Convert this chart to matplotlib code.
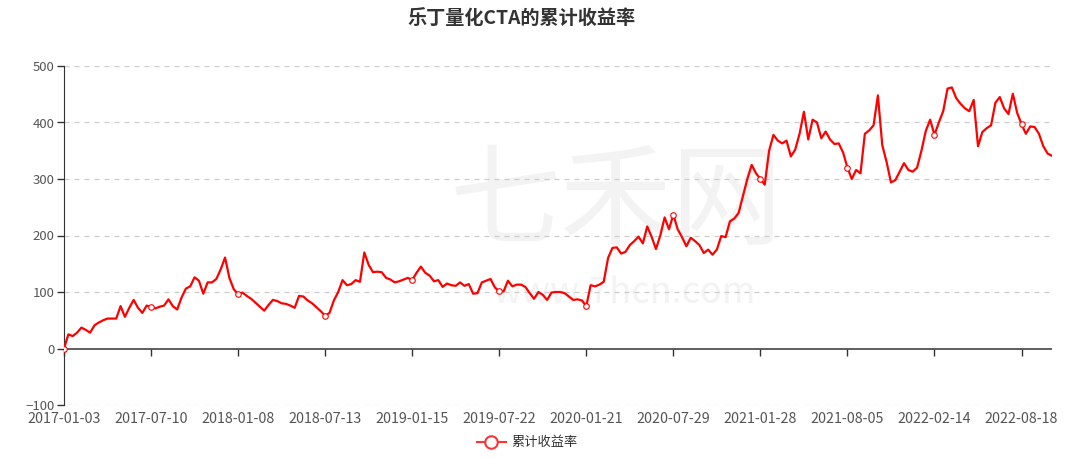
import matplotlib
matplotlib.use('Agg')
import matplotlib.pyplot as plt
from matplotlib.lines import Line2D

plt.rcParams['font.family'] = ['Noto Sans CJK SC', 'DejaVu Sans']

# cumulative return (%), one value every few trading days
values = [
    0, 25, 22, 28, 37, 33, 28, 41, 46, 50,
    53, 53, 53, 75, 56, 72, 86, 72, 63, 76,
    73, 71, 74, 76, 87, 75, 69, 90, 106, 110,
    126, 120, 97, 117, 117, 123, 140, 161, 125, 105,
    96, 99, 93, 88, 81, 74, 67, 77, 86, 84,
    80, 79, 76, 72, 93, 92, 85, 80, 73, 66,
    58, 63, 85, 100, 121, 112, 114, 121, 118, 170,
    148, 135, 136, 135, 125, 122, 117, 119, 122, 125,
    121, 134, 145, 134, 129, 119, 121, 109, 115, 112,
    111, 117, 111, 114, 97, 98, 117, 120, 123, 108,
    101, 101, 120, 110, 113, 113, 109, 98, 88, 100,
    95, 86, 99, 100, 100, 98, 92, 86, 87, 85,
    75, 112, 110, 113, 118, 160, 178, 179, 168, 171,
    183, 190, 198, 186, 216, 198, 176, 200, 232, 211,
    237, 211, 197, 181, 196, 190, 183, 169, 175, 166,
    175, 199, 197, 225, 230, 240, 270, 300, 325, 310,
    300, 290, 350, 378, 368, 363, 368, 340, 352, 380,
    419, 370, 405, 400, 372, 384, 370, 362, 363, 347,
    320, 300, 316, 310, 380, 386, 395, 448, 360, 330,
    294, 298, 313, 328, 316, 313, 320, 350, 385, 405,
    378, 400, 420, 460, 462, 443, 433, 425, 420, 440,
    358, 383, 390, 395, 435, 445, 425, 415, 451, 417,
    397, 380, 393, 392, 380, 358, 345, 341,
]
tick_labels = [
    '2017-01-03', '2017-07-10', '2018-01-08', '2018-07-13',
    '2019-01-15', '2019-07-22', '2020-01-21', '2020-07-29',
    '2021-01-28', '2021-08-05', '2022-02-14', '2022-08-18',
]
tick_step = 20
series_name = '累计收益率'
title = '乐丁量化CTA的累计收益率'

red = '#ff0000'
text_c = '#333333'

fig = plt.figure(figsize=(10.91, 4.58), dpi=100)
ax = fig.add_axes([64 / 1091, 1 - 405 / 458, (1052 - 64) / 1091, (405 - 66) / 458])
ax.set_zorder(2)
ax.patch.set_alpha(0)

# faint watermark behind the plot
fig.text(0.565, 0.555, '七禾网', fontsize=80, color='#f3f3f3', ha='center', va='center', zorder=0)
fig.text(0.572, 0.36, 'www.7hcn.com', fontsize=26, color='#f3f3f3', ha='center', va='center', zorder=0)

x = list(range(len(values)))
ax.plot(x, values, color=red, lw=1.6, marker='o', markevery=tick_step,
        markersize=4, markerfacecolor='white', markeredgecolor=red, markeredgewidth=0.8,
        zorder=3)

ax.set_xlim(0, len(values) - 1)
ax.set_ylim(-100, 500)
yticks = list(range(-100, 501, 100))
ax.set_yticks(yticks)
for v in yticks:
    if v != 0:
        ax.axhline(v, linestyle=(0, (4, 4)), color='#cccccc', lw=0.9, zorder=1)
ax.axhline(0, color=text_c, lw=1.1, zorder=2)

for s in ['top', 'right', 'bottom']:
    ax.spines[s].set_visible(False)
ax.spines['left'].set_color(text_c)
ax.tick_params(axis='y', colors=text_c, labelsize=9.5, length=5, width=1, pad=2)
ax.tick_params(axis='y', labelcolor='#555555')

ticks = list(range(0, len(values), tick_step))
ax.set_xticks(ticks)
ax.set_xticklabels(tick_labels)
ax.tick_params(axis='x', length=0, labelsize=10.3, labelcolor='#555555', pad=5)

# tick marks hang from the zero line
zero_ax = ax.secondary_xaxis(100 / 600)
zero_ax.set_xticks(ticks)
zero_ax.set_xticklabels([])
zero_ax.spines['bottom'].set_visible(False)
zero_ax.tick_params(axis='x', length=5, width=1, color=text_c)

fig.text(0.478, 0.958, title, fontsize=13.8, fontweight='bold', color=text_c,
         ha='center', va='center')

handle = Line2D([], [], color='#ff3333', lw=1.5, marker='o', markersize=9,
                markerfacecolor='white', markeredgecolor='#ff3333', markeredgewidth=1.5)
fig.legend([handle], [series_name], loc='center', bbox_to_anchor=(0.483, 0.033),
           frameon=False, fontsize=9.5, handlelength=2.2, handletextpad=0.4,
           labelcolor='#333333')

fig.savefig('out.png', dpi=100)
